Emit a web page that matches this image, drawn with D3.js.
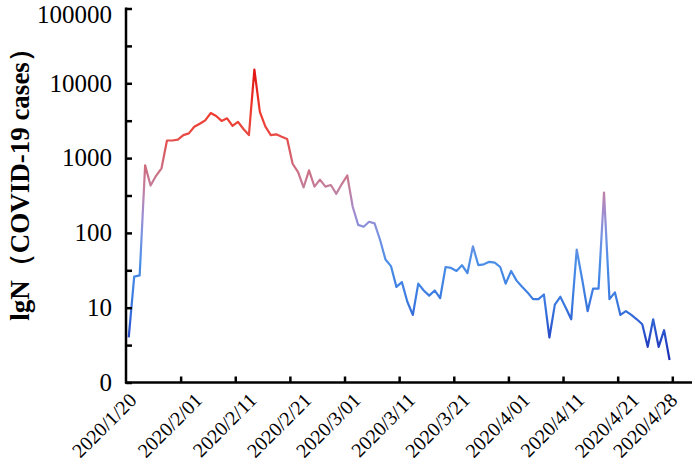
<!DOCTYPE html>
<html>
<head>
<meta charset="utf-8">
<script src="https://cdn.jsdelivr.net/npm/d3@7"></script>
<style>
html,body{margin:0;padding:0;background:#fff;}
svg{display:block;}
text{font-family:"Liberation Serif","Times New Roman",serif;fill:#000;}
</style>
</head>
<body>
<svg id="chart" width="695" height="464"></svg>
<script>
// ---- data ----
const startDate = "2020-01-20";
const cases = [4,26,27,800,430,580,730,1720,1720,1770,
  2030,2140,2620,2880,3200,4000,3650,3140,3400,2700,
  3050,2450,2030,15200,4140,2650,2030,2080,1930,1800,
  840,650,405,685,415,515,415,437,333,450,
  585,224,128,121,141,134,81,44,36,19,
  22,12,8,21,17,14.5,17,13.4,35,34,
  31,37,29,66,37,38,41,40,35,21,
  31,23,19,16,13,13,15,4,11,14,
  10,7,60,24,9,18,18,345,13,16,
  8,9,8,7,6,3,7,3,5,2];
const xTickLabels = ["2020/1/20","2020/2/01","2020/2/11","2020/2/21","2020/3/01","2020/3/11","2020/3/21","2020/4/01","2020/4/11","2020/4/21","2020/4/28"];
const yTickValues = [1,10,100,1000,10000,100000];
const yTickLabels = ["0","10","100","1000","10000","100000"];
const yTitle = "lgN（COVID-19 cases）";

// ---- derived categories ----
const parse = d3.utcParse("%Y-%m-%d");
const t0 = parse(startDate);
const dates = cases.map((_, i) => d3.utcDay.offset(t0, i));
const labelIndex = xTickLabels.map(l => {
  const p = l.split("/").map(Number);
  const d = Date.UTC(p[0], p[1]-1, p[2]);
  return dates.findIndex(dd => dd.getTime() === d);
});

const svg = d3.select("#chart");
const x = d3.scaleLinear().domain([-0.5, cases.length - 0.5]).range([126, 672.3]);
const y = d3.scaleLog().domain([1, 100000]).range([382.5, 8.5]);

// gradient by value
const defs = svg.append("defs");
const grad = defs.append("linearGradient").attr("id","lg")
  .attr("gradientUnits","userSpaceOnUse")
  .attr("x1",0).attr("x2",0).attr("y1",y(1)).attr("y2",y(20000));
const stops = [
  [1,"#1a1a9c"],[2,"#1d2bb0"],[5,"#2a55cf"],[10,"#3876de"],[40,"#4a8ee8"],
  [100,"#7e92e0"],[200,"#a58bcc"],[400,"#c47f9c"],[1000,"#d36270"],
  [2000,"#e84a44"],[4000,"#ee3b2e"],[15000,"#e01414"],[20000,"#e01010"]
];
const lmax = Math.log10(20000);
stops.forEach(s => grad.append("stop").attr("offset", Math.log10(s[0])/lmax).attr("stop-color", s[1]));

// line
const line = d3.line().x((d,i) => x(i)).y(d => y(d));
svg.append("path").datum(cases)
  .attr("d", line)
  .attr("fill","none")
  .attr("stroke","url(#lg)")
  .attr("stroke-width",2.2)
  .attr("stroke-linejoin","round");

// y axis
const yAll = [];
for (let e = 0; e <= 5; e += 0.5) yAll.push(Math.pow(10, e));
const yAxis = d3.axisRight(y).tickValues(yAll).tickSize(6).tickFormat("");
const gy = svg.append("g").attr("transform","translate(126,0)").call(yAxis);
gy.select(".domain").attr("stroke","#000").attr("stroke-width",2.5).attr("d", `M0,${y(100000)-1}V${y(1)+1}`);
gy.selectAll(".tick line").attr("stroke","#000").attr("stroke-width",2.5);

svg.append("g").selectAll("text").data(yTickValues).join("text")
  .attr("x", 112).attr("y", d => Math.max(y(d), 15))
  .attr("dy","0.33em")
  .attr("text-anchor","end")
  .style("font-size","25px")
  .text((d,i) => yTickLabels[i]);

// x axis
const xTickPos = d3.range(0, cases.length + 1, 10).map(k => k - 0.5);
const xAxis = d3.axisTop(x).tickValues(xTickPos.slice(1)).tickSize(6).tickFormat("");
const gx = svg.append("g").attr("transform",`translate(0,${y(1)})`).call(xAxis);
gx.select(".domain").attr("d", `M${x(-0.5)-1},0H692`).attr("stroke","#000").attr("stroke-width",2.5);
gx.selectAll(".tick line").attr("stroke","#000").attr("stroke-width",2.5);

svg.append("g").selectAll("text").data(xTickLabels).join("text")
  .attr("transform", (d,i) => `translate(${x(labelIndex[i]) + 9},${y(1) + 19}) rotate(-45)`)
  .attr("text-anchor","end")
  .style("font-size","20px")
  .text(d => d);

// y title
svg.append("text")
  .attr("transform", "translate(29,178) rotate(-90)")
  .attr("text-anchor","middle")
  .style("font-size","27px")
  .style("font-weight","bold")
  .text(yTitle);
</script>
</body>
</html>
